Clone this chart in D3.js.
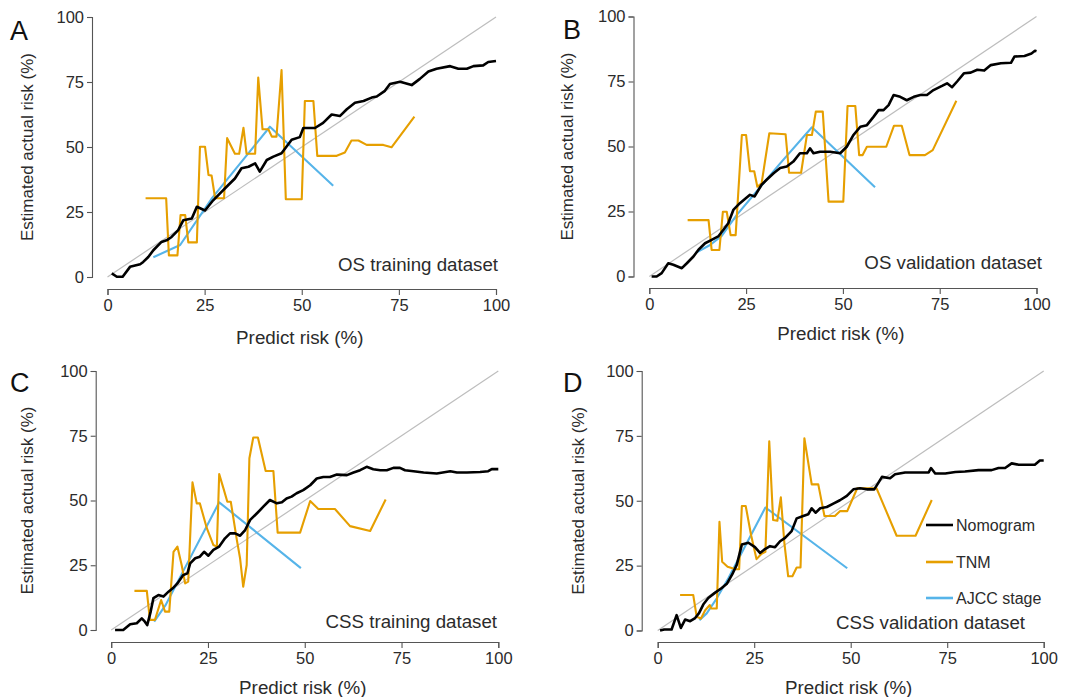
<!DOCTYPE html>
<html>
<head>
<meta charset="utf-8">
<script src="https://cdn.jsdelivr.net/npm/d3@7"></script>
<style>
  html, body { margin: 0; padding: 0; background: #fff; }
  svg { display: block; font-family: "Liberation Sans", Arial, Helvetica, sans-serif; }
</style>
</head>
<body>
<svg id="chart" width="1067" height="697"></svg>
<script>
// ---------- data ----------
const tickValues = [0, 25, 50, 75, 100];
const seriesNames = ["Nomogram", "TNM", "AJCC stage"];
const panelLetters = ["A", "B", "C", "D"];
const panelTitles = ["OS training dataset", "OS validation dataset", "CSS training dataset", "CSS validation dataset"];
const xTitle = "Predict risk (%)";
const yTitle = "Estimated actual risk (%)";

// Panel A: OS training
const osTrainNomogram = [[1.1,1.4],[2.4,0.1],[3.9,0.1],[5.8,3.9],[8.4,4.9],[9.2,5.8],[10.5,7.7],[11.8,10.3],[13.9,13.5],[15.2,14.1],[16.5,15.4],[18.2,18.0],[19.5,21.8],[21.7,22.5],[23.0,27.0],[25.1,25.6],[27.2,29.5],[28.9,32.1],[31.1,35.4],[32.8,37.9],[34.5,41.8],[36.3,42.4],[38.0,43.7],[39.2,40.5],[41.0,45.0],[42.7,46.3],[44.8,47.6],[46.1,50.2],[47.4,52.8],[49.5,53.8],[50.4,57.3],[53.4,57.3],[55.5,59.3],[57.7,62.5],[59.8,61.9],[61.6,64.5],[63.7,67.0],[65.9,67.7],[68.0,69.0],[69.3,69.4],[71.4,71.6],[72.7,74.2],[75.3,75.1],[78.3,73.8],[80.4,76.2],[82.6,79.0],[84.7,80.1],[88.2,81.1],[90.3,80.1],[92.5,80.1],[94.2,81.1],[96.7,81.4],[98.0,82.7],[100,83.1]];
const osTrainTNM = [[9.8,30.3],[15.1,30.3],[15.8,8.3],[18.0,8.3],[18.8,23.8],[20.0,23.8],[20.8,13.3],[23.0,13.3],[23.8,50.1],[25.1,50.1],[26.0,39.2],[26.8,39.0],[27.7,30.3],[30.0,30.3],[30.8,53.4],[32.8,47.4],[33.9,47.4],[35.0,57.4],[35.8,47.4],[38.0,47.4],[38.8,76.7],[39.9,56.8],[41.4,56.8],[42.3,54.0],[43.5,54.0],[44.8,79.6],[45.9,29.9],[50.0,29.9],[50.8,67.7],[53.0,67.7],[54.0,46.6],[59.0,46.6],[61.1,47.9],[62.8,52.5],[64.6,52.5],[66.7,50.8],[71.0,50.8],[73.1,49.9],[79.0,61.7]];
const osTrainAJCC = [[11.8,7.6],[18.7,12.3],[27.0,30.5],[41.8,57.8],[58.1,35.1]];

// Panel B: OS validation
const osValNomogram = [[0.6,0.0],[1.9,0.0],[3.2,1.3],[4.9,5.1],[6.2,4.5],[8.4,3.2],[9.7,5.1],[11.4,7.7],[12.7,10.3],[14.4,12.8],[16.1,14.1],[17.8,15.4],[19.1,17.9],[20.4,20.5],[21.7,25.6],[23.4,28.2],[26.0,31.4],[27.2,30.8],[29.0,35.3],[30.3,37.2],[32.1,39.7],[33.8,41.7],[35.5,42.3],[37.2,44.2],[38.9,47.4],[40.7,47.4],[41.5,49.3],[42.4,47.4],[44.1,48.0],[46.7,48.0],[49.3,47.4],[51.0,49.9],[52.7,54.4],[54.5,57.6],[56.2,58.2],[57.9,61.4],[59.2,64.0],[60.5,64.0],[61.8,65.9],[63.1,69.8],[64.8,69.1],[66.5,67.8],[68.3,69.1],[70.0,69.8],[71.7,69.8],[73.4,71.7],[75.6,73.3],[76.9,74.3],[78.2,72.8],[79.5,75.0],[81.3,78.2],[83.0,78.4],[84.7,79.5],[86.5,79.2],[88.2,81.3],[90.8,82.0],[93.4,82.2],[94.3,84.6],[96.9,84.8],[98.7,85.8],[99.6,86.8],[100,86.6]];
const osValTNM = [[9.9,21.7],[15.3,21.7],[16.1,10.2],[18.1,10.2],[19.0,24.9],[20.0,24.9],[21.0,15.9],[22.3,15.9],[23.9,54.4],[25.0,54.4],[26.0,40.5],[27.1,40.5],[27.9,34.5],[29.0,35.8],[31.0,55.1],[35.2,54.7],[36.1,39.9],[39.2,39.9],[40.7,54.4],[42.0,54.4],[43.0,63.4],[44.8,63.4],[46.3,28.8],[50.1,28.8],[51.2,65.6],[53.2,65.6],[54.2,46.7],[55.1,46.7],[56.2,49.9],[61.2,49.9],[63.2,58.0],[65.2,58.0],[67.2,46.7],[71.2,46.7],[73.2,48.6],[79.3,67.6]];
const osValAJCC = [[12.1,9.2],[15.7,12.1],[18.7,15.6],[20.4,19.2],[22.6,23.7],[27.7,32.7],[33.8,43.5],[42.0,57.4],[58.3,34.3]];

// Panel C: CSS training
const cssTrainNomogram = [[1.0,0.0],[3.1,0.0],[4.9,2.2],[6.6,2.6],[7.9,4.5],[8.7,3.2],[9.3,1.9],[10.2,7.1],[10.9,12.3],[12.2,13.5],[13.5,12.9],[14.8,14.8],[15.9,16.1],[17.1,18.0],[18.6,21.2],[19.7,21.9],[20.4,25.7],[21.7,27.7],[22.9,28.3],[24.0,30.2],[25.1,28.7],[26.4,30.9],[27.9,32.2],[29.4,35.4],[30.7,37.3],[32.0,37.3],[33.3,36.4],[34.6,38.6],[35.9,42.5],[37.6,45.0],[39.3,47.6],[41.0,50.2],[42.8,48.9],[44.1,49.3],[45.3,50.8],[46.6,51.5],[47.9,52.8],[49.6,54.0],[51.4,55.9],[53.1,58.5],[54.8,59.1],[56.5,59.1],[58.3,60.0],[60.9,59.8],[62.6,60.8],[64.3,61.7],[66.0,63.0],[67.7,62.1],[69.5,61.7],[71.2,61.7],[72.9,62.6],[74.6,62.6],[75.9,61.7],[78.1,61.3],[80.7,60.8],[84.1,60.4],[87.6,61.3],[89.3,60.8],[91.9,60.8],[95.3,61.0],[97.4,61.3],[98.3,62.1],[100,62.1]];
const cssTrainTNM = [[6.0,15.1],[9.2,15.1],[10.0,3.9],[11.3,3.9],[12.9,11.6],[13.9,7.1],[15.0,7.1],[16.1,30.2],[17.1,32.2],[18.2,25.1],[19.1,18.0],[19.9,18.7],[21.0,57.0],[22.1,48.9],[22.9,48.9],[24.7,39.3],[26.4,32.8],[27.3,32.2],[27.9,60.2],[29.0,54.7],[30.0,49.5],[30.9,49.5],[32.4,35.3],[33.3,27.6],[34.1,16.7],[35.0,25.1],[35.7,66.3],[36.7,74.3],[37.9,74.3],[39.9,61.4],[41.9,61.4],[43.0,37.6],[48.8,37.6],[51.4,49.8],[53.5,46.7],[57.8,46.7],[61.7,40.1],[66.9,38.2],[70.9,50.4]];
const cssTrainAJCC = [[11.1,3.2],[14.0,9.5],[18.0,21.0],[27.9,49.3],[49.0,23.9]];

// Panel D: CSS validation
const cssValNomogram = [[0.6,0.0],[1.7,0.4],[3.6,0.4],[4.9,5.9],[6.0,1.0],[7.1,4.2],[8.4,3.6],[9.7,4.8],[10.7,6.7],[11.8,10.0],[13.1,12.5],[14.8,14.5],[16.6,16.4],[17.9,18.0],[19.3,21.6],[20.5,25.4],[21.8,33.1],[23.5,33.8],[25.2,32.1],[26.5,29.9],[27.8,31.4],[29.1,32.5],[30.4,32.1],[31.7,34.4],[33.0,35.7],[34.7,38.3],[36.0,43.2],[37.7,44.1],[39.0,44.8],[39.9,47.1],[40.9,45.4],[42.1,47.1],[43.8,47.6],[45.5,48.9],[47.2,50.2],[49.0,51.9],[50.7,54.4],[52.4,54.8],[54.2,54.4],[56.1,54.4],[57.2,57.0],[58.1,59.2],[60.2,58.7],[61.5,60.2],[64.1,60.9],[67.6,60.9],[70.2,60.9],[70.8,62.6],[71.9,60.5],[74.5,60.5],[77.1,61.1],[79.6,61.3],[83.1,61.8],[86.5,61.8],[88.3,62.6],[90.0,62.6],[91.7,64.4],[93.5,63.9],[97.7,63.9],[99.0,65.5],[100,65.5]];
const cssValTNM = [[5.8,13.7],[9.2,13.7],[10.1,5.3],[11.2,4.6],[12.3,7.8],[13.5,9.8],[13.9,8.5],[15.3,8.5],[16.0,41.9],[16.7,26.5],[18.1,24.6],[20.2,23.6],[21.1,23.6],[21.8,48.0],[22.8,48.0],[24.2,36.7],[25.6,27.5],[26.9,29.6],[27.9,30.3],[28.9,72.9],[29.9,42.6],[31.0,42.3],[31.9,51.3],[32.8,34.0],[33.8,20.9],[34.9,20.9],[36.0,24.3],[37.0,24.3],[38.0,74.1],[39.9,56.3],[41.6,56.3],[43.2,44.1],[45.9,44.1],[47.2,46.0],[49.1,46.0],[51.7,54.8],[56.7,54.8],[61.9,36.5],[66.8,36.5],[71.0,50.3]];
const cssValAJCC = [[10.8,4.0],[12.7,6.6],[15.3,12.4],[18.3,20.1],[27.9,47.4],[49.1,24.0]];

const seriesColors = ["#000000", "#E69F00", "#56B4E9"];

// ---------- layout ----------
const panels = [
  { x: [107.5, 496], y: [277, 17], xAxisY: 289, yAxisX: 92, series: [osTrainNomogram, osTrainTNM, osTrainAJCC],
    letter: [10, 40], yTitleX: 27, xTitleY: 344, titleX: 498, titleY: 271 },
  { x: [649.3, 1036.5], y: [276.5, 16.5], xAxisY: 288, yAxisX: 633.5, series: [osValNomogram, osValTNM, osValAJCC],
    letter: [563, 39], yTitleX: 567, xTitleY: 340, titleX: 1042, titleY: 269 },
  { x: [111.2, 498.3], y: [630, 371], xAxisY: 642, yAxisX: 95.7, series: [cssTrainNomogram, cssTrainTNM, cssTrainAJCC],
    letter: [10, 392], yTitleX: 27, xTitleY: 694, titleX: 497, titleY: 628 },
  { x: [657.7, 1043.7], y: [630.5, 371], xAxisY: 642, yAxisX: 641.7, series: [cssValNomogram, cssValTNM, cssValAJCC],
    letter: [563, 392], yTitleX: 578, xTitleY: 694, titleX: 1025, titleY: 629 }
];

const svg = d3.select("#chart");
const axisColor = "#555";
const textColor = "#2b2b2b";

panels.forEach((p, i) => {
  const xs = d3.scaleLinear().domain([0, 100]).range(p.x);
  const ys = d3.scaleLinear().domain([0, 100]).range(p.y);
  const g = svg.append("g");

  // diagonal reference
  g.append("line")
    .attr("x1", xs(0)).attr("y1", ys(0)).attr("x2", xs(100)).attr("y2", ys(100))
    .attr("stroke", "#bdbdbd").attr("stroke-width", 1.2);

  // axes
  const xa = g.append("g").attr("transform", `translate(0,${p.xAxisY})`)
    .call(d3.axisBottom(xs).tickValues(tickValues).tickSize(6).tickPadding(4));
  const ya = g.append("g").attr("transform", `translate(${p.yAxisX},0)`)
    .call(d3.axisLeft(ys).tickValues(tickValues).tickSize(5).tickPadding(3));
  [xa, ya].forEach(a => {
    a.selectAll("path, line").attr("stroke", axisColor).attr("stroke-width", 1.1);
    a.selectAll("text").attr("fill", textColor).style("font-size", "16.5px")
      .style("font-family", "'Liberation Sans', Arial, sans-serif");
  });

  // series lines
  const line = d3.line().x(d => xs(d[0])).y(d => ys(d[1]));
  [2, 1, 0].forEach(k => {
    g.append("path").datum(p.series[k])
      .attr("d", line)
      .attr("fill", "none")
      .attr("stroke", seriesColors[k])
      .attr("stroke-width", k === 0 ? 2.6 : 2.1)
      .attr("stroke-linejoin", "round");
  });

  // panel letter
  g.append("text").attr("x", p.letter[0]).attr("y", p.letter[1])
    .text(panelLetters[i]).attr("fill", "#111").style("font-size", "27px");

  // axis titles
  g.append("text").attr("x", (p.x[0] + p.x[1]) / 2 - 2).attr("y", p.xTitleY)
    .attr("text-anchor", "middle").text(xTitle).attr("fill", textColor).style("font-size", "18.8px");
  g.append("text")
    .attr("transform", `translate(${p.yTitleX + 6},${(p.y[0] + p.y[1]) / 2}) rotate(-90)`)
    .attr("text-anchor", "middle").text(yTitle).attr("fill", textColor).style("font-size", "17px");

  // dataset title
  g.append("text").attr("x", p.titleX).attr("y", p.titleY)
    .attr("text-anchor", "end").text(panelTitles[i]).attr("fill", textColor).style("font-size", "18.7px");
});

// legend (panel D)
const legendY = [525, 562, 598];
seriesNames.forEach((name, k) => {
  svg.append("line").attr("x1", 926).attr("x2", 953).attr("y1", legendY[k]).attr("y2", legendY[k])
    .attr("stroke", seriesColors[k]).attr("stroke-width", 2.6);
  svg.append("text").attr("x", 956).attr("y", legendY[k] + 6).text(name)
    .attr("fill", textColor).style("font-size", "16px");
});
</script>
</body>
</html>
